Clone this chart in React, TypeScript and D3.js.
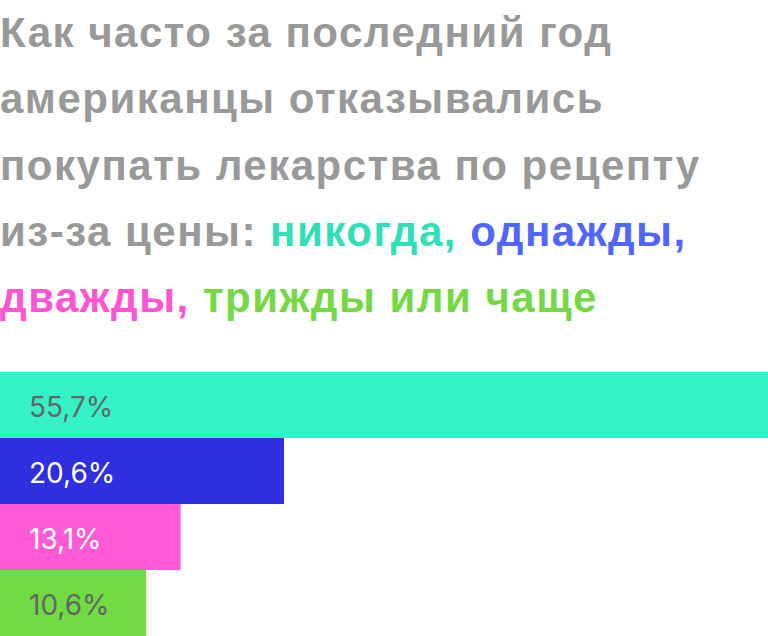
import React from "react";
import * as d3 from "d3";

const categories = ["никогда", "однажды", "дважды", "трижды или чаще"];
const values = [55.7, 20.6, 13.1, 10.6];
const labels = ["55,7%", "20,6%", "13,1%", "10,6%"];
const barColors = ["#33f2c6", "#2f2fe0", "#ff5ad6", "#70db42"];
const textColors = ["#2fdfb6", "#5066ff", "#ff55d5", "#74d944"];
const labelColors = ["#666666", "#ffffff", "#ffffff", "#666666"];

const W = 768;
const H = 636;

export default function App() {
  const x = d3.scaleLinear().domain([0, d3.max(values) as number]).range([0, W]);
  const y = d3.scaleBand<string>().domain(categories).range([372, 636]).padding(0);
  const titleFont = "'Liberation Sans', Arial, sans-serif";
  const lh = 66.3;
  const base = 47;
  return (
    <div style={{ position: "absolute", left: 0, top: 0 }}>
      <svg width={W} height={H} style={{ display: "block" }}>
        <rect width={W} height={H} fill="#ffffff" />
        <g fontFamily={titleFont} fontWeight="bold" fontSize={42} letterSpacing={1.5} fill="#999999">
          <text x={0} y={base}>Как часто за последний год</text>
          <text x={0} y={base + lh}>американцы отказывались</text>
          <text x={0} y={base + lh * 2}>покупать лекарства по рецепту</text>
          <text x={0} y={base + lh * 3}>
            <tspan>из-за цены: </tspan>
            <tspan fill={textColors[0]}>{categories[0]},</tspan>
            <tspan> </tspan>
            <tspan fill={textColors[1]}>{categories[1]},</tspan>
          </text>
          <text x={0} y={base + lh * 4}>
            <tspan fill={textColors[2]}>{categories[2]},</tspan>
            <tspan> </tspan>
            <tspan fill={textColors[3]}>{categories[3]}</tspan>
          </text>
        </g>
        {categories.map((c, i) => (
          <g key={c}>
            <rect
              x={0}
              y={y(c)}
              width={x(values[i])}
              height={y.bandwidth()}
              fill={barColors[i]}
            />
            <text
              x={29}
              y={(y(c) as number) + y.bandwidth() / 2 + 12}
              fontFamily="Inter, Roboto, sans-serif"
              fontSize={28}
              fill={labelColors[i]}
            >
              {labels[i]}
            </text>
          </g>
        ))}
      </svg>
    </div>
  );
}
